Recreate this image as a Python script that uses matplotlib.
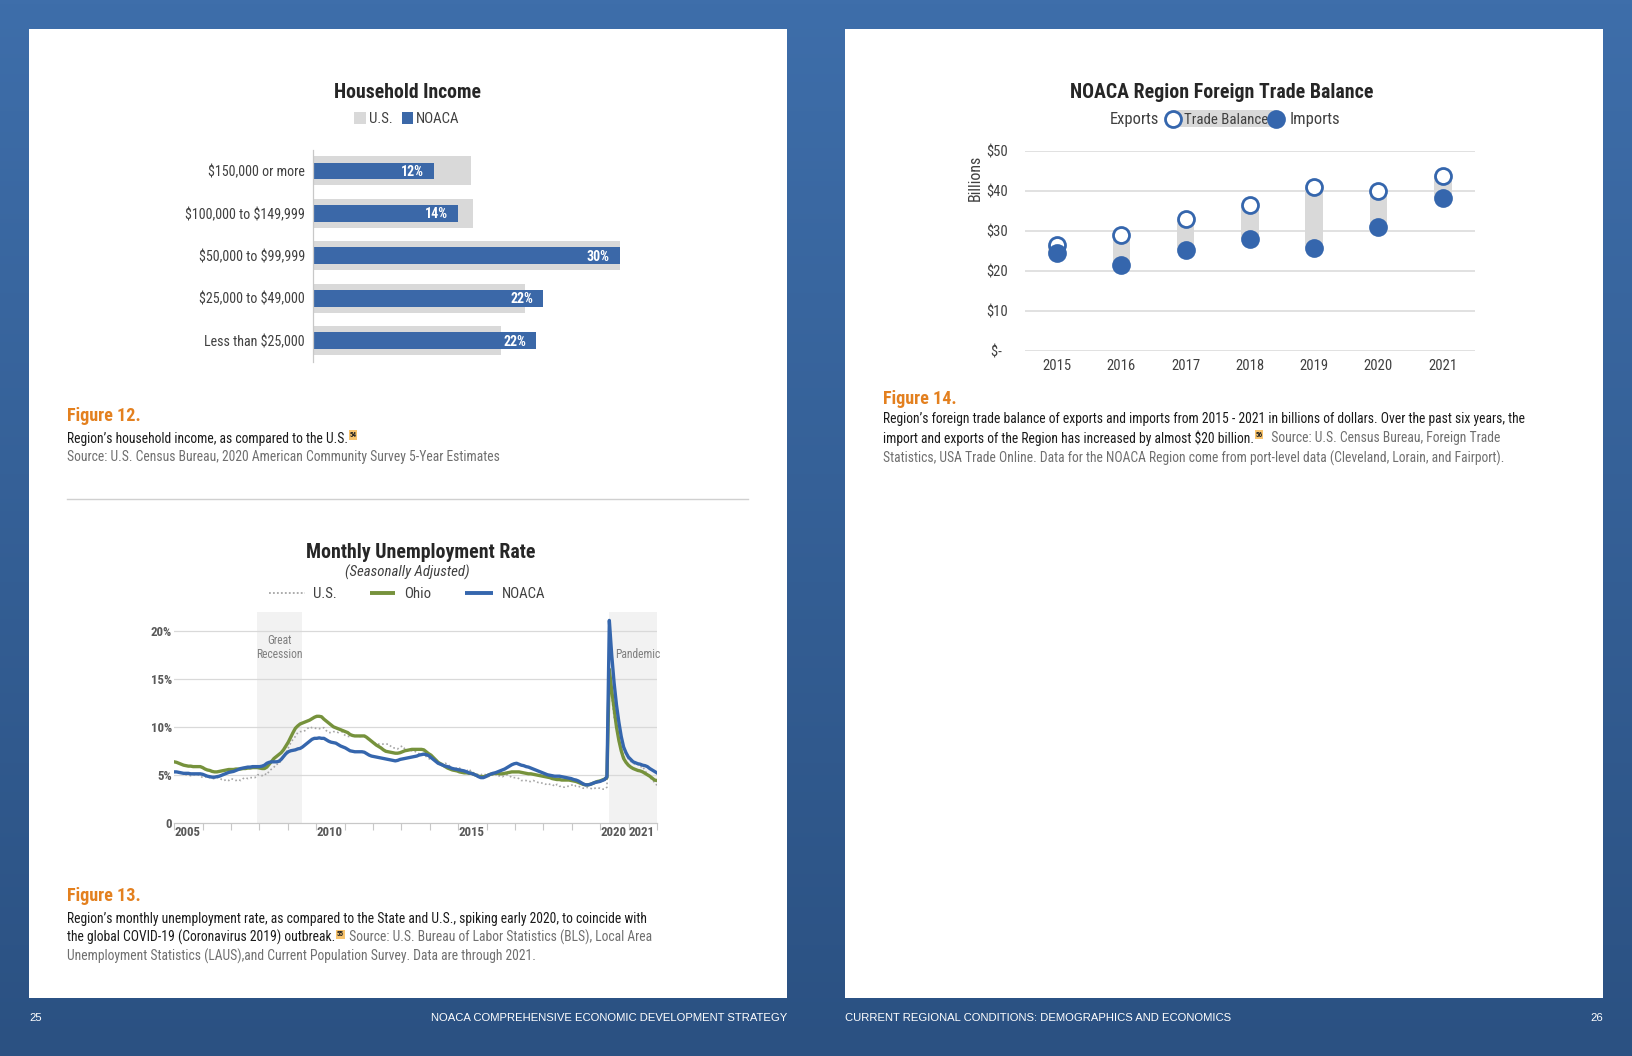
import numpy as np
import matplotlib
matplotlib.use("Agg")
import matplotlib.pyplot as plt
from matplotlib import font_manager as fm
from matplotlib.patches import Rectangle
from matplotlib.colors import LinearSegmentedColormap

# ---------------- data ----------------
income_categories = ["$150,000 or more", "$100,000 to $149,999", "$50,000 to $99,999",
                     "$25,000 to $49,000", "Less than $25,000"]
income_us = [15.4, 15.6, 30.0, 20.7, 18.4]
income_noaca = [11.8, 14.2, 30.0, 22.5, 21.8]
income_labels = ["12%", "14%", "30%", "22%", "22%"]

unemp_first_year = 2005
unemp_last_year = 2021
us_rate = [
    5.3, 5.4, 5.2, 5.2, 5.1, 5.0, 5.0, 4.9, 5.0, 5.0, 5.0, 4.9,
    4.7, 4.8, 4.7, 4.7, 4.6, 4.6, 4.7, 4.7, 4.5, 4.4, 4.5, 4.4,
    4.6, 4.5, 4.4, 4.5, 4.4, 4.6, 4.7, 4.6, 4.7, 4.7, 4.7, 5.0,
    5.0, 4.9, 5.1, 5.0, 5.4, 5.6, 5.8, 6.1, 6.1, 6.5, 6.8, 7.3,
    7.8, 8.3, 8.7, 9.0, 9.4, 9.5, 9.5, 9.6, 9.8, 10.0, 9.9, 9.9,
    9.8, 9.8, 9.9, 9.9, 9.6, 9.4, 9.4, 9.5, 9.5, 9.4, 9.8, 9.3,
    9.1, 9.0, 9.0, 9.1, 9.0, 9.1, 9.0, 9.0, 9.0, 8.8, 8.6, 8.5,
    8.3, 8.3, 8.2, 8.2, 8.2, 8.2, 8.2, 8.0, 7.8, 7.8, 7.7, 7.9,
    8.0, 7.7, 7.5, 7.6, 7.5, 7.5, 7.3, 7.2, 7.2, 7.2, 6.9, 6.7,
    6.6, 6.7, 6.7, 6.2, 6.3, 6.1, 6.2, 6.1, 5.9, 5.7, 5.8, 5.6,
    5.7, 5.5, 5.4, 5.4, 5.6, 5.3, 5.2, 5.1, 5.0, 5.0, 5.1, 5.0,
    4.8, 4.9, 5.0, 5.1, 4.8, 4.9, 4.8, 4.9, 5.0, 4.9, 4.7, 4.7,
    4.7, 4.6, 4.4, 4.4, 4.4, 4.3, 4.3, 4.4, 4.3, 4.2, 4.2, 4.1,
    4.0, 4.1, 4.0, 4.0, 3.8, 4.0, 3.8, 3.8, 3.7, 3.8, 3.8, 3.9,
    4.0, 3.8, 3.8, 3.7, 3.6, 3.6, 3.7, 3.6, 3.5, 3.6, 3.6, 3.6,
    3.5, 3.5, 3.7, 14.7, 13.2, 11.0, 10.2, 8.4, 7.9, 6.9, 6.7, 6.7,
    6.4, 6.2, 6.1, 6.1, 5.8, 5.9, 5.4, 5.1, 4.7, 4.5, 4.2, 3.9,
]
ohio_rate = [
    6.35, 6.3, 6.2, 6.1, 6.0, 5.95, 5.9, 5.9, 5.85, 5.85, 5.85, 5.85,
    5.75, 5.6, 5.5, 5.45, 5.35, 5.3, 5.3, 5.35, 5.4, 5.45, 5.5, 5.55,
    5.55, 5.55, 5.6, 5.6, 5.6, 5.65, 5.65, 5.7, 5.7, 5.75, 5.75, 5.75,
    5.7, 5.65, 5.65, 5.8, 6.1, 6.4, 6.7, 6.9, 7.1, 7.3, 7.6, 8.0,
    8.4, 8.9, 9.4, 9.85, 10.1, 10.3, 10.4, 10.5, 10.6, 10.7, 10.85, 11.0,
    11.1, 11.1, 11.05, 10.8, 10.6, 10.4, 10.2, 10.0, 9.9, 9.8, 9.7, 9.6,
    9.5, 9.4, 9.2, 9.1, 9.05, 9.05, 9.05, 9.05, 9.05, 8.9, 8.7, 8.5,
    8.3, 8.1, 7.95, 7.8, 7.6, 7.45, 7.4, 7.35, 7.3, 7.25, 7.25, 7.3,
    7.4, 7.5, 7.55, 7.6, 7.65, 7.65, 7.65, 7.65, 7.65, 7.6, 7.4, 7.2,
    7.05, 6.8, 6.55, 6.3, 6.15, 6.0, 5.85, 5.7, 5.6, 5.5, 5.45, 5.4,
    5.3, 5.25, 5.2, 5.2, 5.15, 5.15, 5.05, 4.95, 4.85, 4.8, 4.8, 4.85,
    4.95, 5.05, 5.1, 5.15, 5.15, 5.1, 5.1, 5.15, 5.2, 5.25, 5.3, 5.3,
    5.3, 5.3, 5.25, 5.2, 5.15, 5.1, 5.1, 5.05, 5.0, 4.95, 4.9, 4.85,
    4.8, 4.75, 4.7, 4.6, 4.55, 4.5, 4.5, 4.45, 4.45, 4.45, 4.45, 4.4,
    4.35, 4.3, 4.2, 4.1, 4.0, 3.95, 3.95, 4.0, 4.1, 4.2, 4.3, 4.35,
    4.45, 4.55, 4.7, 16.0, 13.8, 11.9, 10.0, 8.6, 7.5, 6.7, 6.3, 6.0,
    5.8, 5.65, 5.55, 5.45, 5.4, 5.3, 5.15, 5.0, 4.85, 4.65, 4.45, 4.4,
]
noaca_rate = [
    5.3, 5.3, 5.25, 5.2, 5.15, 5.15, 5.15, 5.1, 5.1, 5.1, 5.1, 5.1,
    5.05, 4.95, 4.85, 4.8, 4.75, 4.75, 4.8, 4.85, 4.95, 5.05, 5.15, 5.25,
    5.3, 5.35, 5.45, 5.55, 5.65, 5.7, 5.75, 5.8, 5.8, 5.85, 5.85, 5.85,
    5.85, 5.9, 6.0, 6.2, 6.3, 6.35, 6.35, 6.35, 6.4, 6.6, 6.9, 7.2,
    7.4, 7.5, 7.55, 7.6, 7.7, 7.75, 7.9, 8.1, 8.3, 8.5, 8.7, 8.8,
    8.8, 8.85, 8.8, 8.8, 8.65, 8.5, 8.4, 8.35, 8.3, 8.15, 8.0, 7.9,
    7.8, 7.65, 7.5, 7.45, 7.4, 7.4, 7.4, 7.4, 7.35, 7.2, 7.05, 6.95,
    6.9, 6.85, 6.8, 6.75, 6.7, 6.65, 6.6, 6.55, 6.5, 6.45, 6.5, 6.6,
    6.65, 6.7, 6.75, 6.8, 6.85, 6.9, 6.95, 7.05, 7.1, 7.15, 7.1, 7.0,
    6.8, 6.6, 6.4, 6.2, 6.1, 6.0, 5.9, 5.85, 5.75, 5.65, 5.6, 5.55,
    5.5, 5.45, 5.4, 5.3, 5.2, 5.15, 5.05, 4.95, 4.8, 4.7, 4.7, 4.8,
    4.95, 5.05, 5.15, 5.2, 5.3, 5.4, 5.5, 5.6, 5.75, 5.9, 6.05, 6.15,
    6.2, 6.1, 6.0, 5.95, 5.85, 5.8, 5.7, 5.6, 5.5, 5.4, 5.3, 5.2,
    5.1, 5.0, 4.95, 4.9, 4.85, 4.85, 4.85, 4.8, 4.75, 4.7, 4.65, 4.6,
    4.5, 4.45, 4.35, 4.2, 4.05, 3.95, 3.95, 4.0, 4.1, 4.2, 4.25, 4.3,
    4.4, 4.5, 4.8, 21.1, 17.5, 14.6, 12.3, 10.5, 9.0, 7.9, 7.3, 6.85,
    6.6, 6.35, 6.25, 6.15, 6.1, 6.0, 5.95, 5.85, 5.65, 5.5, 5.35, 5.2,
]
unemp_year_labels = ["2005", "2010", "2015", "2020", "2021"]
recession_span = (2007.92, 2009.5)
pandemic_span = (2020.33, 2022.0)

trade_years = ["2015", "2016", "2017", "2018", "2019", "2020", "2021"]
exports = [26.3, 28.8, 32.9, 36.4, 41.0, 39.9, 43.7]
imports = [24.5, 21.4, 25.2, 27.8, 25.6, 30.8, 38.2]
trade_ticks = [0, 10, 20, 30, 40, 50]
trade_tick_labels = ["$-  ", "$10", "$20", "$30", "$40", "$50"]

# ---------------- fonts ----------------
names = {f.name for f in fm.fontManager.ttflist}
narrow = next((n for n in ["Liberation Sans Narrow", "Arial Narrow", "Roboto Condensed",
                           "Open Sans Condensed"] if n in names), None)
if narrow:
    FAM = [narrow, "DejaVu Sans"]
    K = 1.0
else:
    FAM = ["Liberation Sans", "DejaVu Sans"]
    K = 0.82
plt.rcParams["font.family"] = FAM
plt.rcParams["text.parse_math"] = False


def fs(p):
    return p * K


W, H = 1632, 1056
DY = 2.0  # small vertical nudge for free text
fig = plt.figure(figsize=(W / 100, H / 100), dpi=100)


def add_ax(x0, y0, x1, y1):
    ax = fig.add_axes([x0 / W, 1 - y1 / H, (x1 - x0) / W, (y1 - y0) / H])
    ax.set_facecolor("none")
    return ax


DARK = "#262626"
TXT = "#404040"
GRAY_TXT = "#6f6f6f"
BLUE = "#3b68a8"
LBLUE = "#3566ad"
GREEN = "#76923c"
LGRAY = "#d9d9d9"
ORANGE = "#e3801f"

# ---------------- background & pages ----------------
bg = fig.add_axes([0, 0, 1, 1], zorder=-5)
grad = np.linspace(0, 1, 256).reshape(-1, 1)
bg.imshow(grad, cmap=LinearSegmentedColormap.from_list("bgb", ["#3e6eaa", "#2b5182"]),
          extent=[0, W, H, 0], aspect="auto", zorder=0)
bg.set_xlim(0, W)
bg.set_ylim(H, 0)
bg.axis("off")
for x0 in (29, 845):
    bg.add_patch(Rectangle((x0, 29), 758, 969, fc="white", ec="none", zorder=1))
bg.plot([66.6, 748.3], [498.5, 498.5], color="#d0d0d0", lw=1, zorder=2)


def btext(x, y, s, **kw):
    kw.setdefault("zorder", 3)
    return bg.text(x, y + DY, s, **kw)


# footer
foot = dict(color="white", fontsize=8.1, va="center", family=["Liberation Sans", "DejaVu Sans"])
btext(29, 1016, "25", ha="left", **foot)
btext(787, 1016, "NOACA COMPREHENSIVE ECONOMIC DEVELOPMENT STRATEGY", ha="right", **foot)
btext(845, 1016, "CURRENT REGIONAL CONDITIONS: DEMOGRAPHICS AND ECONOMICS", ha="left", **foot)
btext(1603, 1016, "26", ha="right", **foot)


# ---------------- captions ----------------
def sup_chain(x, y, first, sup, rest, first_color, rest_color, size):
    t1 = btext(x, y, first, ha="left", va="center", fontsize=size, color=first_color)
    t2 = bg.annotate(sup, xy=(1, 0.5), xycoords=t1, xytext=(1.5, 2.5), textcoords="offset points",
                     ha="left", va="center", fontsize=size * 0.52, fontweight="bold", color="#222222",
                     bbox=dict(boxstyle="square,pad=0.08", fc="#f8c46e", ec="none"), zorder=3)
    if rest:
        bg.annotate(rest, xy=(1, 0.5), xycoords=(t2, t1), xytext=(1.5, 0), textcoords="offset points",
                    ha="left", va="center", fontsize=size, color=rest_color, zorder=3)


CAP = fs(9.85)
FIG = fs(13.1)
btext(66.6, 414, "Figure 12.", fontsize=FIG, fontweight="bold", color=ORANGE, va="center")
sup_chain(66.6, 436.5, "Region\u2019s household income, as compared to the U.S.", "54", "", "#1a1a1a", GRAY_TXT, CAP)
btext(66.6, 455.5, "Source: U.S. Census Bureau, 2020 American Community Survey 5-Year Estimates",
      fontsize=CAP, color=GRAY_TXT, va="center")

btext(66.6, 894, "Figure 13.", fontsize=FIG, fontweight="bold", color=ORANGE, va="center")
btext(66.6, 917, "Region\u2019s monthly unemployment rate, as compared to the State and U.S., spiking early 2020, to coincide with",
      fontsize=CAP, color="#1a1a1a", va="center")
sup_chain(66.6, 935.7, "the global COVID-19 (Coronavirus 2019) outbreak.", "55",
          " Source: U.S. Bureau of Labor Statistics (BLS), Local Area", "#1a1a1a", GRAY_TXT, CAP)
btext(66.6, 954.4, "Unemployment Statistics (LAUS),and Current Population Survey. Data are through 2021.",
      fontsize=CAP, color=GRAY_TXT, va="center")

btext(882.6, 396.5, "Figure 14.", fontsize=FIG, fontweight="bold", color=ORANGE, va="center")
btext(882.6, 417.4, "Region\u2019s foreign trade balance of exports and imports from 2015 - 2021 in billions of dollars. Over the past six years, the",
      fontsize=CAP, color="#1a1a1a", va="center")
sup_chain(882.6, 436, "import and exports of the Region has increased by almost $20 billion.", "56",
          "  Source: U.S. Census Bureau, Foreign Trade", "#1a1a1a", GRAY_TXT, CAP)
btext(882.6, 456, "Statistics, USA Trade Online. Data for the NOACA Region come from port-level data (Cleveland, Lorain, and Fairport).",
      fontsize=CAP, color=GRAY_TXT, va="center")

# ---------------- Chart 1: Household income ----------------
btext(407.5, 90.7, "Household Income", ha="center", va="center", fontsize=fs(14.2),
      fontweight="bold", color=DARK)
bg.add_patch(Rectangle((354.3, 111.5), 11.7, 12, fc=LGRAY, ec="none", zorder=3))
btext(369, 116.7, "U.S.", va="center", ha="left", fontsize=fs(10.7), color=TXT)
bg.add_patch(Rectangle((401.7, 111.5), 11.6, 12, fc=BLUE, ec="none", zorder=3))
btext(416, 116.7, "NOACA", va="center", ha="left", fontsize=fs(10.7), color=TXT)

ax1 = add_ax(313.3, 149.8, 313.3 + 327, 361.7)
yy = np.arange(len(income_categories))
ax1.barh(yy, income_us, height=0.684, color=LGRAY, zorder=1)
ax1.barh(yy, income_noaca, height=0.40, color=BLUE, zorder=2)
for i, (v, lab) in enumerate(zip(income_noaca, income_labels)):
    ax1.annotate(lab, (v, i), xytext=(-7.2, -0.8), textcoords="offset points", ha="right", va="center",
                 color="white", fontweight="bold", fontsize=fs(10.0), zorder=3)
ax1.set_xlim(0, 32)
ax1.set_ylim(len(income_categories) - 0.5, -0.5)
ax1.set_yticks(yy, income_categories)
ax1.tick_params(axis="y", length=0, pad=6, labelsize=fs(10.1), labelcolor=TXT)
ax1.set_xticks([])
for s in ("top", "right", "bottom"):
    ax1.spines[s].set_visible(False)
ax1.spines["left"].set_color("#c8c8c8")
ax1.spines["left"].set_linewidth(0.9)

# ---------------- Chart 2: Unemployment ----------------
btext(420.7, 550.7, "Monthly Unemployment Rate", ha="center", va="center", fontsize=fs(14.3),
      fontweight="bold", color=DARK)
btext(407.7, 570, "(Seasonally Adjusted)", ha="center", va="center", fontsize=fs(10.7),
      fontstyle="italic", color=TXT)
bg.plot([269.3, 305], [592.5, 592.5], color="#a6a6a6", lw=1.3, ls=(0, (1, 1.2)), zorder=3)
btext(313.3, 591.7, "U.S.", va="center", fontsize=fs(10.7), color=TXT)
bg.plot([370, 395], [592.5, 592.5], color=GREEN, lw=2.8, zorder=3, solid_capstyle="butt")
btext(404, 591.7, "Ohio", va="center", fontsize=fs(10.7), color=TXT)
bg.plot([465, 493.3], [592.5, 592.5], color=LBLUE, lw=2.8, zorder=3, solid_capstyle="butt")
btext(501.7, 591.7, "NOACA", va="center", fontsize=fs(10.7), color=TXT)

ax2 = add_ax(174.1, 611.8, 656.9, 822.7)
n = len(us_rate)
span = unemp_last_year + 1 - unemp_first_year
xm = unemp_first_year + np.arange(n) * span / (n - 1)
ax2.axvspan(*recession_span, color="#f2f2f2", lw=0, zorder=0)
ax2.axvspan(*pandemic_span, color="#f2f2f2", lw=0, zorder=0)
for v in (5, 10, 15, 20):
    ax2.axhline(v, color=LGRAY, lw=0.9, zorder=1)
ax2.plot(xm, us_rate, color="#a6a6a6", lw=1.2, ls=(0, (1, 1.5)), zorder=2)
ax2.plot(xm, ohio_rate, color=GREEN, lw=2.4, zorder=3, solid_joinstyle="round")
ax2.plot(xm, noaca_rate, color=LBLUE, lw=2.4, zorder=4, solid_joinstyle="round")
ax2.set_xlim(unemp_first_year, unemp_last_year + 1)
ax2.set_ylim(0, 22)
ax2.set_xticks(np.arange(unemp_first_year, unemp_last_year + 2))
ax2.set_xticklabels([])
ax2.tick_params(axis="x", which="major", length=5, width=0.8, color="#c8c8c8")
ax2.set_xticks([int(y) + 0.47 for y in unemp_year_labels], unemp_year_labels, minor=True)
ax2.tick_params(axis="x", which="minor", length=0, pad=2.5, labelsize=fs(9.3), labelcolor="#595959")
for t in ax2.get_xticklabels(minor=True):
    t.set_fontweight("bold")
ax2.set_yticks([0, 5, 10, 15, 20], ["0", "5%", "10%", "15%", "20%"])
ax2.tick_params(axis="y", length=0, pad=1.5, labelsize=fs(9.3), labelcolor="#595959")
for t in ax2.get_yticklabels():
    t.set_fontweight("bold")
for s in ("top", "right", "left"):
    ax2.spines[s].set_visible(False)
ax2.spines["bottom"].set_color("#c8c8c8")
ax2.spines["bottom"].set_linewidth(0.9)
ax2.text(279.8, 645.7 + DY, "Great\nRecession", transform=bg.transData, ha="center", va="center",
         fontsize=fs(8.3), color="#7f7f7f", linespacing=1.15, zorder=6, clip_on=False)
ax2.text(615.5, 652.3 + DY, "Pandemic", transform=bg.transData, ha="left", va="center",
         fontsize=fs(8.3), color="#7f7f7f", zorder=6, clip_on=False)

# ---------------- Chart 3: Trade balance ----------------
btext(1221.7, 90.7, "NOACA Region Foreign Trade Balance", ha="center", va="center",
      fontsize=fs(14.3), fontweight="bold", color=DARK)
btext(1159.3, 117.7, "Exports", ha="right", va="center", fontsize=fs(11.9), color=TXT)
bg.add_patch(Rectangle((1173, 110.3), 103.7, 16.7, fc=LGRAY, ec="none", zorder=3))
btext(1184, 117.7, "Trade Balance", ha="left", va="center", fontsize=fs(10.7), color=TXT, zorder=4)
bg.plot([1172.7], [118.7], "o", ms=11.5, mfc="white", mec=LBLUE, mew=2.0, zorder=5)
bg.plot([1276], [118.7], "o", ms=13.5, mfc=LBLUE, mec=LBLUE, mew=0, zorder=5)
btext(1290, 117.7, "Imports", ha="left", va="center", fontsize=fs(11.9), color=TXT)
btext(975, 175.5, "Billions", rotation=90, ha="center", va="center", fontsize=fs(11.5), color=TXT)

ax3 = add_ax(1025, 150.7, 1474.8, 350.7)
xi = np.arange(len(trade_years))
for v in trade_ticks:
    ax3.axhline(v, color=LGRAY, lw=1.1, zorder=0)
ax3.bar(xi, np.array(exports) - np.array(imports), bottom=imports, width=0.275, color=LGRAY, zorder=2)
ax3.plot(xi, exports, "o", ms=11.5, mfc="white", mec=LBLUE, mew=2.0, zorder=3, clip_on=False)
ax3.plot(xi, imports, "o", ms=13.5, mfc=LBLUE, mec=LBLUE, mew=0, zorder=4, clip_on=False)
ax3.set_xlim(-0.5, len(trade_years) - 0.5)
ax3.set_ylim(0, 50)
ax3.set_xticks(xi, trade_years)
ax3.set_yticks(trade_ticks, trade_tick_labels)
ax3.tick_params(axis="x", length=0, pad=6, labelsize=fs(10.5), labelcolor=TXT)
ax3.tick_params(axis="y", length=0, pad=12, labelsize=fs(10.5), labelcolor=TXT)
for s in ax3.spines.values():
    s.set_visible(False)

fig.savefig("out.png", dpi=100)
